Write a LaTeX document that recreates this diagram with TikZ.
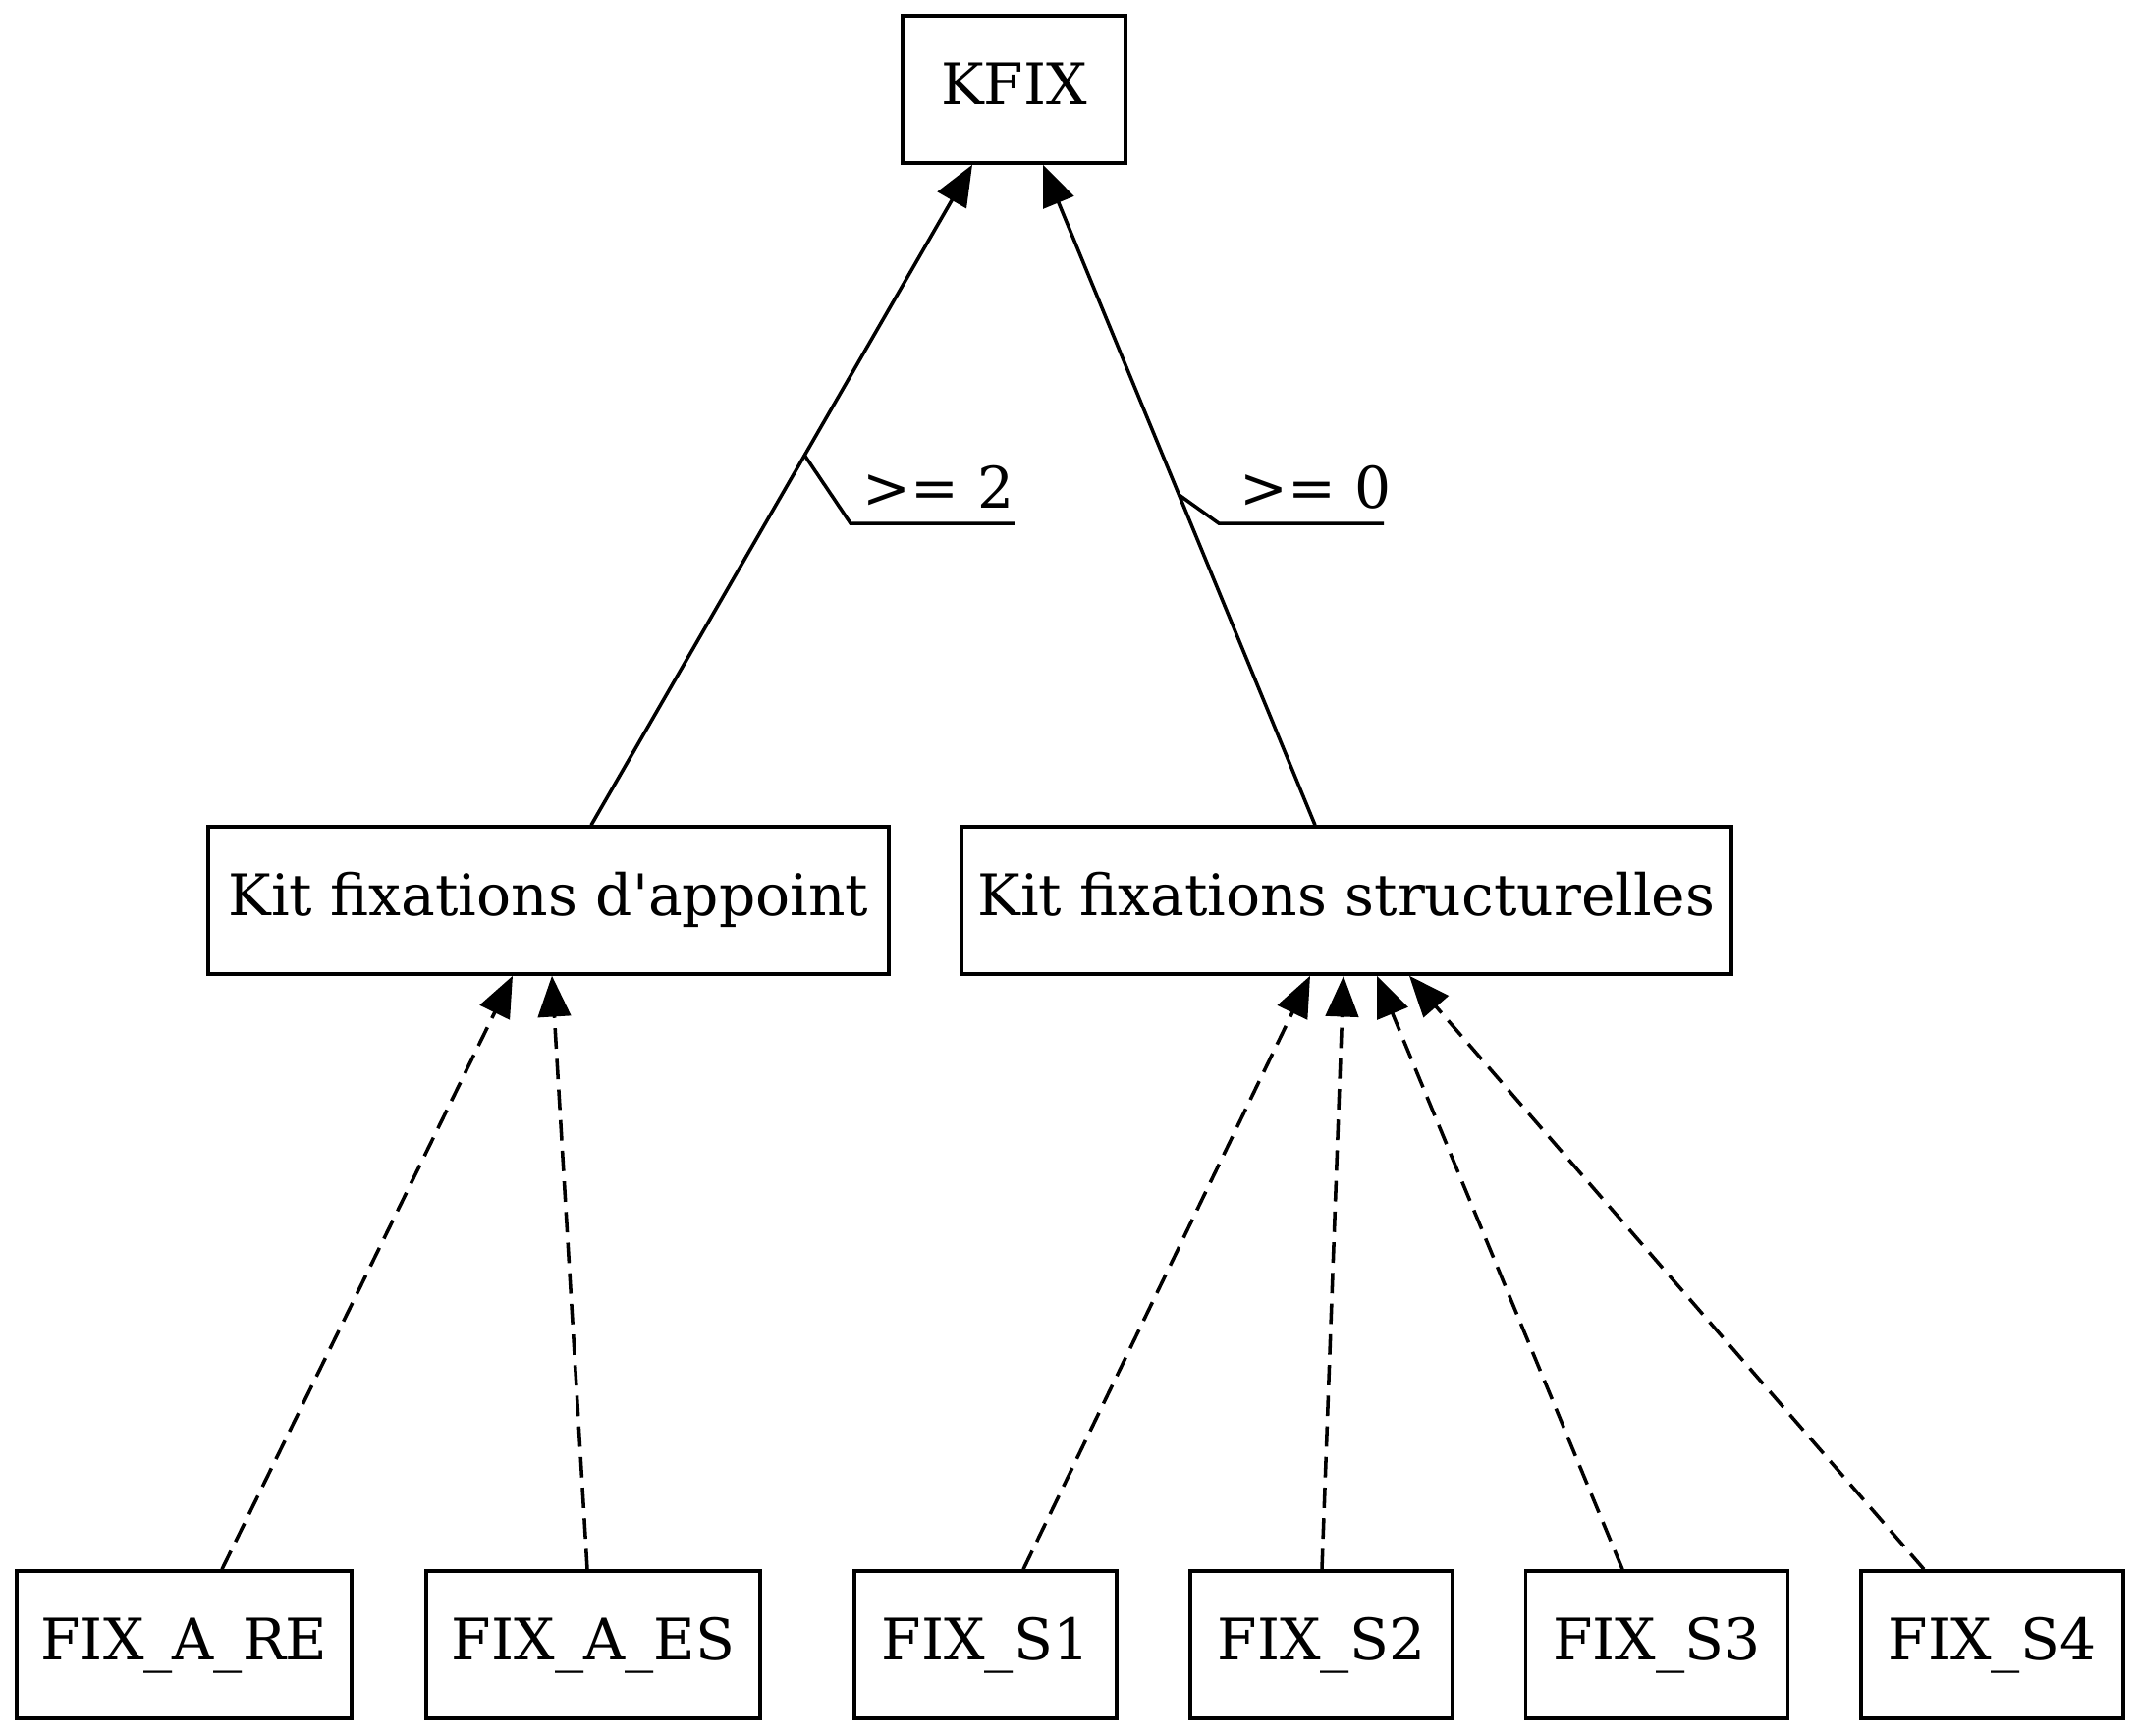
\documentclass[tikz,border=0pt]{standalone}
\usepackage{fontspec}
\newfontfamily\gvfont{DejaVu Serif}
\usetikzlibrary{arrows.meta}
\begin{document}
\begin{tikzpicture}[x=0.24pt,y=-0.24pt,
  box/.style={draw,line width=0.85pt,inner sep=0pt,minimum height=36pt,
    font=\gvfont\fontsize{14}{17}\selectfont,text height=10.2pt,text depth=2.6pt},
  edge/.style={line width=0.85pt,-{Triangle[length=10pt,width=8pt]}},
  dep/.style={edge,dash pattern=on 5pt off 2.5pt},
  lbl/.style={font=\gvfont\fontsize{14}{17}\selectfont,inner sep=0pt,anchor=base west},
  deco/.style={line width=0.85pt}]
\useasboundingbox (0,0) rectangle (2179,1767);
% nodes
\node[box,minimum width=54.5pt] (kfix) at (1032.5,91) {KFIX};
\node[box,minimum width=166.3pt] (apt) at (558.5,917) {Kit fixations d'appoint};
\node[box,minimum width=188.2pt] (str) at (1371,917) {Kit fixations structurelles};
\node[box,minimum width=81.8pt] (are) at (187.5,1675) {FIX\_A\_RE};
\node[box,minimum width=81.6pt] (aes) at (604,1675) {FIX\_A\_ES};
\node[box,minimum width=64.1pt] (s1) at (1003.5,1675) {FIX\_S1};
\node[box,minimum width=64.1pt] (s2) at (1345.5,1675) {FIX\_S2};
\node[box,minimum width=64.1pt] (s3) at (1687,1675) {FIX\_S3};
\node[box,minimum width=64.1pt] (s4) at (2028.5,1675) {FIX\_S4};
% edges to KFIX
\draw[edge] (apt.north -| 602,0) -- coordinate[pos=0.56] (k1) (kfix.south -| 990,0);
\draw[edge] (str.north -| 1339,0) -- coordinate[pos=0.50] (k2) (kfix.south -| 1062,0);
% labels
\draw[deco] (k1) -- (866,533) coordinate (u1) -- (1033,533);
\node[lbl] (l1) at (878,517) {>= 2};
\draw[deco] (k2) -- (1241,533) coordinate (u2) -- (1409,533);
\node[lbl] (l2) at (1262,517) {>= 0};
% dashed edges
\draw[dep] (are.north -| 226,0) -- (apt.south -| 522,0);
\draw[dep] (aes.north -| 598,0) -- (apt.south -| 562,0);
\draw[dep] (s1.north -| 1042,0) -- (str.south -| 1334,0);
\draw[dep] (s2.north -| 1346,0) -- (str.south -| 1368,0);
\draw[dep] (s3.north -| 1652,0) -- (str.south -| 1402,0);
\draw[dep] (s4.north -| 1959,0) -- (str.south -| 1435,0);
\end{tikzpicture}
\end{document}
